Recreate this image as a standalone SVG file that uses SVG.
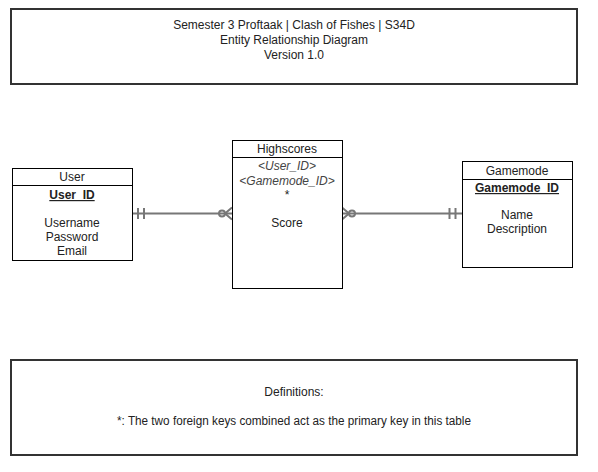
<svg xmlns="http://www.w3.org/2000/svg" width="598" height="472" viewBox="0 0 598 472">
<style>
text{font-family:"Liberation Sans",Arial,sans-serif;font-size:12px;fill:#222;text-anchor:middle}
.frame{fill:#fff;stroke:#333;stroke-width:2}
.ent{fill:#fff;stroke:#000;stroke-width:1}
.pk{font-weight:bold;text-decoration:underline}
.fk{font-style:italic;fill:#444}
.conn{fill:none;stroke:#777;stroke-width:2}
</style>
<rect width="598" height="472" fill="#fff"/>
<g id="title">
<rect class="frame" x="11" y="9" width="566" height="75"/>
<text x="294" y="29">Semester 3 Proftaak | Clash of Fishes | S34D</text>
<text x="294" y="44">Entity Relationship Diagram</text>
<text x="294" y="59">Version 1.0</text>
</g>
<g id="connectors">
<line class="conn" x1="133" y1="213.5" x2="232" y2="213.5"/>
<line class="conn" x1="138" y1="208" x2="138" y2="219"/>
<line class="conn" x1="144" y1="208" x2="144" y2="219"/>
<circle class="conn" cx="222" cy="213.5" r="3" fill="#fff"/>
<polyline class="conn" points="232,207.5 225,213.5 232,219.5"/>
<line class="conn" x1="342" y1="213.5" x2="462" y2="213.5"/>
<polyline class="conn" points="342,207.5 349,213.5 342,219.5"/>
<circle class="conn" cx="352" cy="213.5" r="3" fill="#fff"/>
<line class="conn" x1="449.5" y1="208" x2="449.5" y2="219"/>
<line class="conn" x1="455.5" y1="208" x2="455.5" y2="219"/>
</g>
<g id="user">
<rect class="ent" x="12.5" y="168.5" width="120" height="92"/>
<line class="ent" x1="12.5" y1="185.5" x2="132.5" y2="185.5"/>
<text x="72" y="181">User</text>
<text class="pk" x="72" y="199">User_ID</text>
<text x="72" y="227">Username</text>
<text x="72" y="241">Password</text>
<text x="72" y="255">Email</text>
</g>
<g id="highscores">
<rect class="ent" x="232.5" y="140.5" width="110" height="148"/>
<line class="ent" x1="232.5" y1="157.5" x2="342.5" y2="157.5"/>
<text x="287" y="153">Highscores</text>
<text class="fk" x="287" y="170">&lt;User_ID&gt;</text>
<text class="fk" x="287" y="185">&lt;Gamemode_ID&gt;</text>
<text x="287" y="199">*</text>
<text x="287" y="227">Score</text>
</g>
<g id="gamemode">
<rect class="ent" x="462.5" y="161.5" width="110" height="106"/>
<line class="ent" x1="462.5" y1="179.5" x2="572.5" y2="179.5"/>
<text x="517" y="175">Gamemode</text>
<text class="pk" x="517" y="192">Gamemode_ID</text>
<text x="517" y="219">Name</text>
<text x="517" y="233">Description</text>
</g>
<g id="definitions">
<rect class="frame" x="11" y="360" width="566" height="95"/>
<text x="294" y="396">Definitions:</text>
<text x="294" y="425" textLength="354" lengthAdjust="spacingAndGlyphs">*: The two foreign keys combined act as the primary key in this table</text>
</g>
</svg>
